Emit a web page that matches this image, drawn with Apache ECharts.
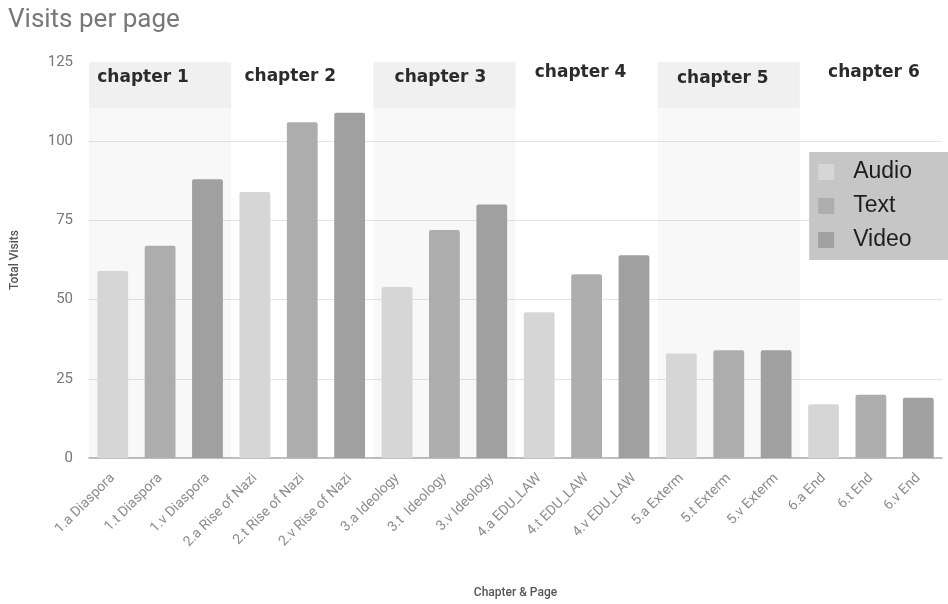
<!DOCTYPE html>
<html>
<head>
<meta charset="utf-8">
<script src="https://cdn.jsdelivr.net/npm/echarts@6/dist/echarts.min.js"></script>
<style>
  html, body { margin: 0; padding: 0; background: #fff; }
  #chart { width: 948px; height: 604px; }
</style>
</head>
<body>
<div id="chart"></div>
<script>
// Pages of the course, in order (a = audio, t = text, v = video)
const pages = [
  '1.a Diaspora', '1.t Diaspora', '1.v Diaspora',
  '2.a Rise of Nazi', '2.t Rise of Nazi', '2.v Rise of Nazi',
  '3.a Ideology', '3.t  Ideology', '3.v Ideology',
  '4.a EDU_LAW', '4.t EDU_LAW', '4.v EDU_LAW',
  '5.a Exterm', '5.t Exterm', '5.v Exterm',
  '6.a End', '6.t End', '6.v End'
];
// Total visits for each page
const visits = [59, 67, 88, 84, 106, 109, 54, 72, 80, 46, 58, 64, 33, 34, 34, 17, 20, 19];
// Media format of the page at each position within a chapter
const mediaTypes = ['Audio', 'Text', 'Video'];
const mediaColors = ['#d6d6d6', '#adadad', '#a0a0a0'];
// Chapter headings; each chapter spans three pages
const chapters = ['chapter 1', 'chapter 2', 'chapter 3', 'chapter 4', 'chapter 5', 'chapter 6'];
const yTicks = [0, 25, 50, 75, 100, 125];

const headerFrom = 110.5;   // start of the heading strip at the top of each chapter
const labelDist = [7, 6, 7, 2, 8, 2];
const labelShift = [-17, -12, -4, -6, -6, 3];

const chapterAreas = [];
chapters.forEach((name, c) => {
  const first = pages[c * 3], last = pages[c * 3 + 2];
  const shaded = c % 2 === 0;
  if (shaded) {
    chapterAreas.push([
      { xAxis: first, yAxis: 0, itemStyle: { color: 'rgba(0,0,0,0.028)' } },
      { xAxis: last, yAxis: headerFrom }
    ]);
  }
  chapterAreas.push([
    {
      name: name,
      xAxis: first, yAxis: headerFrom,
      itemStyle: { color: shaded ? 'rgba(0,0,0,0.06)' : 'rgba(0,0,0,0)' },
      label: { distance: labelDist[c], offset: [labelShift[c], 0] }
    },
    { xAxis: last, yAxis: yTicks[yTicks.length - 1] }
  ]);
});

const series = mediaTypes.map((type, m) => ({
  name: type,
  type: 'bar',
  stack: 'page',
  barWidth: '65%',
  itemStyle: { color: mediaColors[m], borderRadius: [2, 2, 0, 0] },
  data: visits.map((v, i) => (i % 3 === m ? v : '-')),
  z: 3
}));
series[0].markArea = {
  silent: true,
  label: {
    show: true,
    position: 'insideTop',
    fontFamily: 'DejaVu Sans',
    fontWeight: 'bold',
    fontSize: 17,
    color: '#2b2b2b'
  },
  data: chapterAreas
};

const chart = echarts.init(document.getElementById('chart'), null, { renderer: 'canvas' });
chart.setOption({
  animation: false,
  backgroundColor: '#ffffff',
  title: {
    text: 'Visits per page',
    left: 3,
    top: 2,
    textStyle: { fontFamily: 'Roboto', fontSize: 26, fontWeight: 'normal', color: '#777' }
  },
  legend: {
    orient: 'vertical',
    right: 0,
    top: 152,
    backgroundColor: '#c6c6c6',
    padding: [8, 36, 8, 9],
    itemWidth: 16,
    itemHeight: 16,
    itemGap: 10,
    icon: 'rect',
    textStyle: {
      fontFamily: 'Liberation Sans',
      fontSize: 23,
      lineHeight: 24,
      color: '#1e1e1e',
      padding: [0, 0, 0, 14]
    },
    data: mediaTypes
  },
  grid: { left: 89, right: 6, top: 62, bottom: 142 },
  xAxis: {
    type: 'category',
    data: pages,
    name: 'Chapter & Page',
    nameLocation: 'middle',
    nameGap: 129,
    nameTextStyle: { fontFamily: 'Roboto', fontSize: 12, fontWeight: 500, color: '#555' },
    axisLine: { lineStyle: { color: '#aaa', width: 1.5 } },
    axisTick: { show: false },
    axisLabel: {
      interval: 0,
      rotate: 45,
      margin: 18,
      fontFamily: 'Roboto',
      fontSize: 14,
      color: '#8c8c8c'
    }
  },
  yAxis: {
    type: 'value',
    min: 0,
    max: 125,
    interval: 25,
    name: 'Total Visits',
    nameLocation: 'middle',
    nameGap: 68,
    nameTextStyle: { fontFamily: 'Roboto', fontSize: 12, fontWeight: 500, color: '#555' },
    axisLine: { show: false },
    axisTick: { show: false },
    axisLabel: { fontFamily: 'Roboto', fontSize: 15, color: '#777', margin: 16 },
    splitLine: {
      lineStyle: { color: ['rgba(0,0,0,0)', '#e4e4e4', '#e4e4e4', '#e4e4e4', '#e4e4e4', 'rgba(0,0,0,0)'] }
    }
  },
  series: series
});
</script>
</body>
</html>
